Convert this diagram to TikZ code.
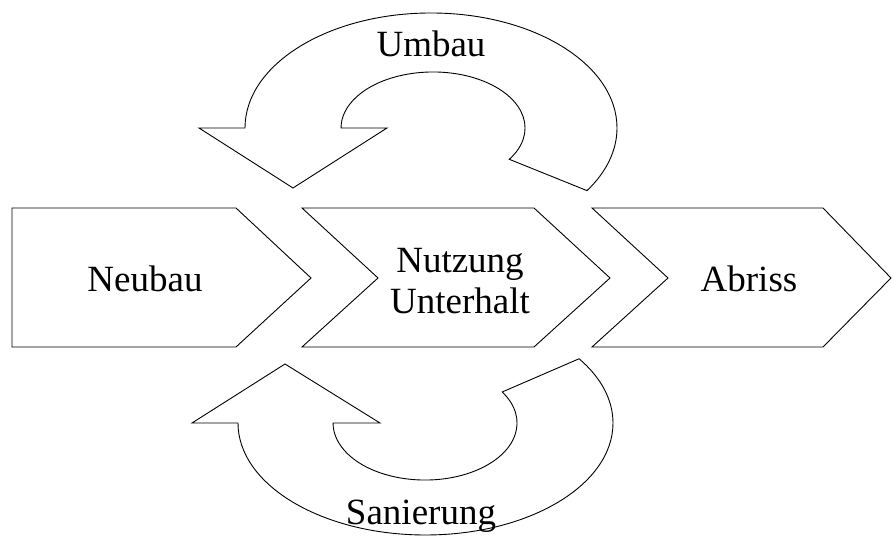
\documentclass[tikz,border=0pt]{standalone}
\usepackage{fontspec}
\setmainfont{Liberation Serif}
\begin{document}
\begin{tikzpicture}[x=1pt,y=1pt,
  shapeline/.style={draw=black,line width=0.9pt,fill=white,line join=miter},
  caption/.style={font=\fontsize{37}{41}\selectfont,inner sep=0pt,align=center}]
\useasboundingbox (0,0) rectangle (892,537);

% process chevrons
\draw[shapeline] (12,329) -- (236,329) -- (311,259) -- (236,190) -- (12,190) -- cycle;
\draw[shapeline] (302,329) -- (534,329) -- (610,259) -- (534,190) -- (302,190) -- (378,259) -- cycle;
\draw[shapeline] (592,329) -- (823,329) -- (891,259) -- (823,190) -- (592,190) -- (668,259) -- cycle;

% loop arrow above
\draw[shapeline] (293,349) -- (199,409) -- (245,409)
  arc[start angle=180,end angle=-33,x radius=186pt,y radius=115pt]
  -- (509.3,377.7)
  arc[start angle=-34,end angle=180,x radius=92pt,y radius=56pt]
  -- (387,409) -- cycle;

% loop arrow below
\draw[shapeline] (285,173) -- (192,114) -- (238,114)
  arc[start angle=180,end angle=395,x radius=187.5pt,y radius=112pt]
  -- (502.2,145)
  arc[start angle=393,end angle=180,x radius=92pt,y radius=57pt]
  -- (380,114) -- cycle;

% labels
\node[caption,anchor=base] (neubau) at (145,245) {Neubau};
\node[caption] (nutzung) at (460,256.4) {Nutzung\\Unterhalt};
\node[caption,anchor=base] (abriss) at (749,245) {Abriss};
\node[caption,anchor=base] (umbau) at (431,480) {Umbau};
\node[caption,anchor=base] (sanierung) at (421,12) {Sanierung};
\end{tikzpicture}
\end{document}
